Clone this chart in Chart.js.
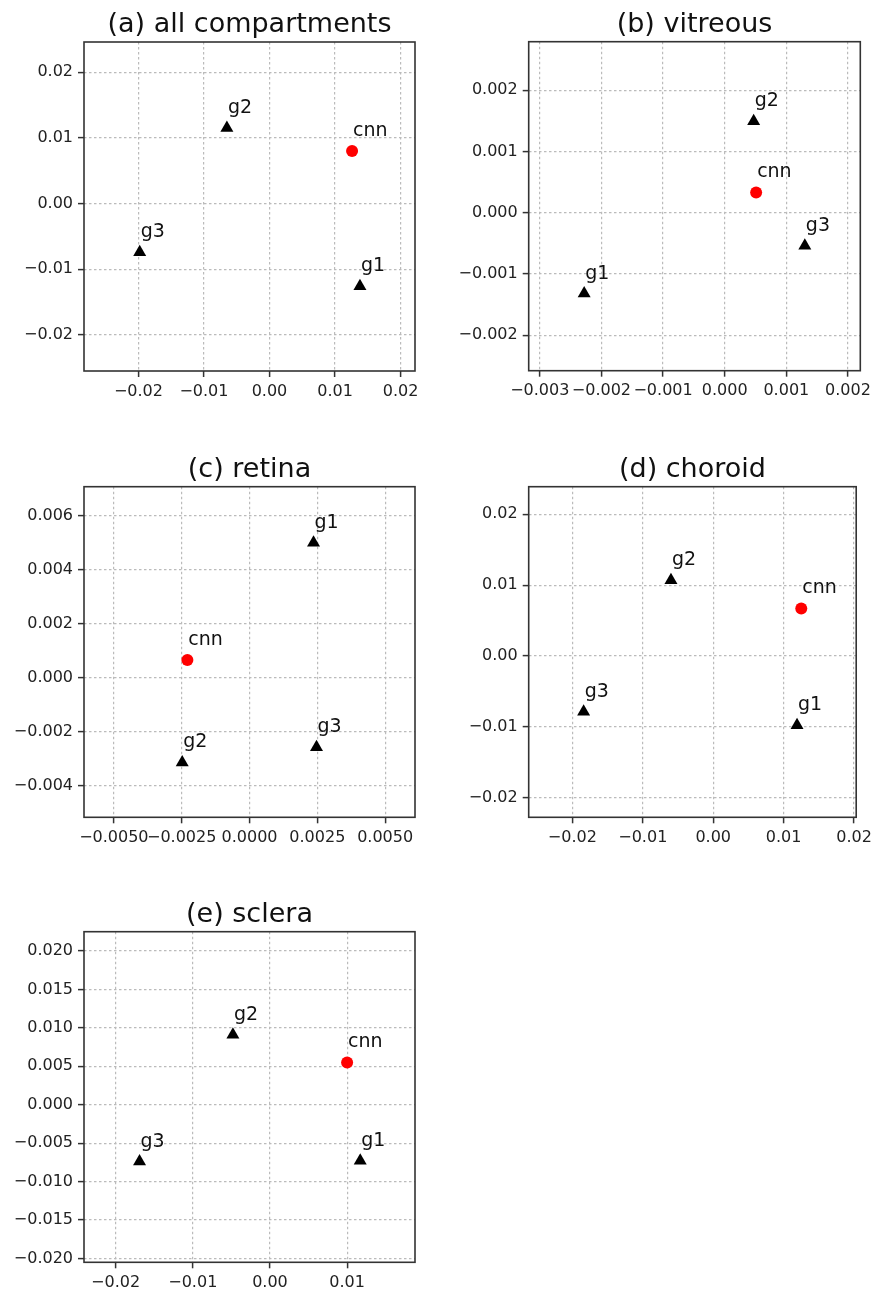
<!DOCTYPE html>
<html>
<head>
<meta charset="utf-8">
<script src="https://cdn.jsdelivr.net/npm/chart.js@4"></script>
<style>
body { margin: 0; background: #fff; }
#wrap { position: relative; width: 877px; height: 1290px; }
canvas { position: absolute; }
</style>
</head>
<body>
<div id="wrap">
<canvas id="chartA" width="430" height="400" style="left:0px;top:0px"></canvas>
<canvas id="chartB" width="440" height="400" style="left:437px;top:0px"></canvas>
<canvas id="chartC" width="430" height="420" style="left:0px;top:430px"></canvas>
<canvas id="chartD" width="440" height="420" style="left:437px;top:430px"></canvas>
<canvas id="chartE" width="430" height="420" style="left:0px;top:870px"></canvas>
</div>
<script>
// point names, same order in every panel
var gNames = ['g1', 'g2', 'g3'];

// (a) all compartments
var aCnn = [0.0126, 0.0080];
var aGx = [0.0138, -0.0065, -0.0198];
var aGy = [-0.0126, 0.0115, -0.0074];
var aXRange = [-0.0283, 0.0222];
var aYRange = [-0.0255, 0.0246];
var aXTicks = [-0.02, -0.01, 0, 0.01, 0.02];
var aYTicks = [-0.02, -0.01, 0, 0.01, 0.02];

// (b) vitreous
var bCnn = [0.00051, 0.00033];
var bGx = [-0.00228, 0.00047, 0.00130];
var bGy = [-0.00132, 0.00149, -0.00054];
var bXRange = [-0.00318, 0.00220];
var bYRange = [-0.00258, 0.00279];
var bXTicks = [-0.003, -0.002, -0.001, 0, 0.001, 0.002];
var bYTicks = [-0.002, -0.001, 0, 0.001, 0.002];

// (c) retina
var cCnn = [-0.00229, 0.00065];
var cGx = [0.00236, -0.00248, 0.00247];
var cGy = [0.00499, -0.00313, -0.00257];
var cXRange = [-0.0061, 0.0061];
var cYRange = [-0.00516, 0.00706];
var cXTicks = [-0.005, -0.0025, 0, 0.0025, 0.005];
var cYTicks = [-0.004, -0.002, 0, 0.002, 0.004, 0.006];

// (d) choroid
var dCnn = [0.0125, 0.0067];
var dGx = [0.0119, -0.0060, -0.0184];
var dGy = [-0.0098, 0.0107, -0.0079];
var dXRange = [-0.0262, 0.0203];
var dYRange = [-0.0228, 0.0239];
var dXTicks = [-0.02, -0.01, 0, 0.01, 0.02];
var dYTicks = [-0.02, -0.01, 0, 0.01, 0.02];

// (e) sclera
var eCnn = [0.0100, 0.0055];
var eGx = [0.0117, -0.0048, -0.0169];
var eGy = [-0.0073, 0.0091, -0.0074];
var eXRange = [-0.0241, 0.0188];
var eYRange = [-0.0205, 0.0225];
var eXTicks = [-0.02, -0.01, 0, 0.01];
var eYTicks = [-0.02, -0.015, -0.01, -0.005, 0, 0.005, 0.01, 0.015, 0.02];

var FONT = 'DejaVu Sans';

function fmt(v, dec) {
    var s = Math.abs(v) < 1e-12 ? (0).toFixed(dec) : v.toFixed(dec);
    return s.replace('-', '\u2212');
}

// frame, title and point labels
var panelPlugin = {
    id: 'panel',
    beforeDatasetsDraw: function (chart) {
        var a = chart.chartArea, ctx = chart.ctx;
        ctx.save();
        ctx.strokeStyle = '#333';
        ctx.lineWidth = 1.6;
        ctx.strokeRect(a.left, a.top, a.right - a.left, a.bottom - a.top);
        ctx.restore();
    },
    afterDraw: function (chart) {
        var a = chart.chartArea, ctx = chart.ctx;
        var o = chart.options.plugins.panel;
        ctx.save();
        ctx.fillStyle = '#111';
        ctx.font = '27px ' + FONT;
        ctx.textAlign = 'center';
        ctx.textBaseline = 'alphabetic';
        ctx.fillText(o.title, (a.left + a.right) / 2, a.top - 10);
        ctx.font = '19px ' + FONT;
        ctx.textAlign = 'left';
        chart.data.datasets.forEach(function (ds, i) {
            chart.getDatasetMeta(i).data.forEach(function (pt, j) {
                ctx.fillText(ds.names[j], pt.x + 1, pt.y - 15);
            });
        });
        ctx.restore();
    }
};

function axis(range, ticks, dec, pos, size) {
    return {
        type: 'linear',
        position: pos,
        min: range[0],
        max: range[1],
        afterBuildTicks: function (s) {
            s.ticks = ticks.map(function (v) { return { value: v }; });
        },
        afterFit: function (s) {
            if (pos === 'left') { s.width = size; } else { s.height = size; }
        },
        ticks: {
            autoSkip: false,
            maxRotation: 0,
            minRotation: 0,
            padding: pos === 'left' ? 5 : 5,
            color: '#222',
            font: { family: FONT, size: 16 },
            callback: function (v) { return fmt(v, dec); }
        },
        grid: {
            color: '#bbbbbb',
            lineWidth: 1.2,
            drawTicks: true,
            tickLength: 6,
            tickColor: '#333',
            tickWidth: 1.5
        },
        border: { display: false, dash: [2.5, 2.5] }
    };
}

function makePanel(id, title, cnn, gx, gy, xr, yr, xt, yt, xdec, ydec, box) {
    var gPts = gx.map(function (x, i) { return { x: x, y: gy[i] }; });
    return new Chart(document.getElementById(id), {
        type: 'scatter',
        data: {
            datasets: [{
                names: ['cnn'],
                data: [{ x: cnn[0], y: cnn[1] }],
                pointStyle: 'circle',
                pointRadius: 6,
                backgroundColor: '#ff0000',
                borderColor: '#ff0000',
                borderWidth: 0
            }, {
                names: gNames,
                data: gPts,
                pointStyle: 'triangle',
                pointRadius: 7.5,
                backgroundColor: '#000',
                borderColor: '#000',
                borderWidth: 0
            }]
        },
        options: {
            responsive: false,
            animation: false,
            devicePixelRatio: 1,
            layout: { padding: { top: box.top, right: box.right, left: 0, bottom: 0 } },
            plugins: {
                legend: { display: false },
                tooltip: { enabled: false },
                panel: { title: title }
            },
            scales: {
                x: axis(xr, xt, xdec, 'bottom', box.xh),
                y: axis(yr, yt, ydec, 'left', box.yw)
            }
        },
        plugins: [panelPlugin]
    });
}

var chartA = makePanel('chartA', '(a) all compartments', aCnn, aGx, aGy, aXRange, aYRange, aXTicks, aYTicks, 2, 2,
    { top: 42, right: 15, xh: 29, yw: 84 });
var chartB = makePanel('chartB', '(b) vitreous', bCnn, bGx, bGy, bXRange, bYRange, bXTicks, bYTicks, 3, 3,
    { top: 41.7, right: 16.7, xh: 29.3, yw: 91.7 });
var chartC = makePanel('chartC', '(c) retina', cCnn, cGx, cGy, cXRange, cYRange, cXTicks, cYTicks, 4, 3,
    { top: 56.7, right: 15, xh: 32.7, yw: 84 });
var chartD = makePanel('chartD', '(d) choroid', dCnn, dGx, dGy, dXRange, dYRange, dXTicks, dYTicks, 2, 2,
    { top: 56.7, right: 16.7, xh: 32.7, yw: 91.7 });
var chartE = makePanel('chartE', '(e) sclera', eCnn, eGx, eGy, eXRange, eYRange, eXTicks, eYTicks, 2, 3,
    { top: 61.7, right: 15, xh: 27.7, yw: 84 });
</script>
</body>
</html>
